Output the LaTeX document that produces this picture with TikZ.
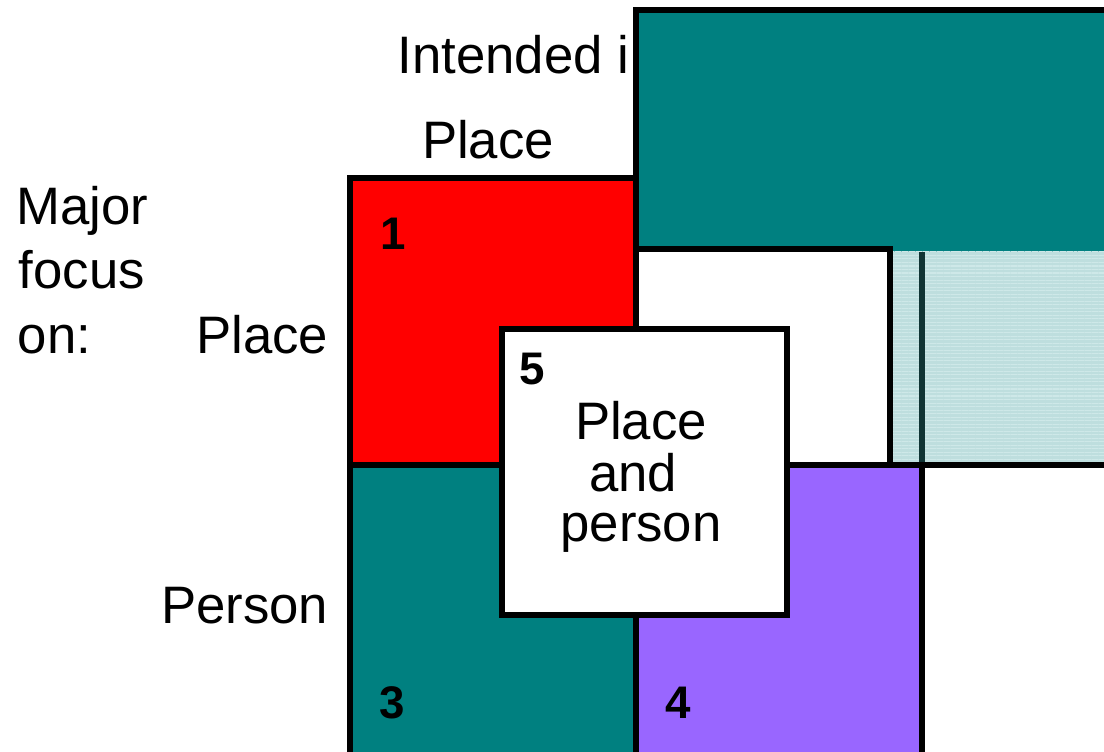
\documentclass[tikz,border=0pt]{standalone}
\usepackage{fontspec}
\setmainfont{Liberation Sans}
\usetikzlibrary{patterns.meta}
\definecolor{tealbox}{RGB}{0,128,128}
\definecolor{purplebox}{RGB}{153,102,255}
\definecolor{redbox}{RGB}{255,0,0}
\definecolor{hatchbg}{RGB}{190,222,222}
\definecolor{hatchline}{RGB}{206,232,232}
\definecolor{darkrule}{RGB}{16,52,52}

\begin{document}
\begin{tikzpicture}[x=1cm,y=1cm,bd/.style={line width=1.6pt,black},
  lab/.style={font=\fontsize{15}{17}\selectfont,inner sep=0pt,anchor=base},
  num/.style={font=\fontsize{13}{15}\selectfont\bfseries,inner sep=0pt,anchor=base}]
\useasboundingbox (0,0) rectangle (11.04,7.51);
% heading texts (partly covered by the teal block)
\node[lab,anchor=base west] (intended) at (3.97,6.77) {Intended i};
\node[lab] (colplace) at (4.88,5.92) {Place};
\node[lab,anchor=base west] (major) at (0.16,5.26) {Major};
\node[lab,anchor=base west] (focus) at (0.18,4.62) {focus};
\node[lab,anchor=base west] (on) at (0.17,3.97) {on:};
\node[lab,anchor=base east] (rowplace) at (3.29,3.97) {Place};
\node[lab,anchor=base east] (rowperson) at (3.29,1.27) {Person};
% upper right blocks
\fill[tealbox] (6.36,7.41) rectangle (11.3,4.99);
\draw[bd] (6.36,5.02) |- (11.3,7.41);
\fill[hatchbg] (8.90,4.99) rectangle (11.3,2.86);
\fill[pattern={Lines[angle=0,distance=1pt,line width=0.3pt]},pattern color=hatchline] (8.90,4.99) rectangle (11.3,2.86);
\draw[line width=1.6pt,darkrule] (9.22,4.99) -- (9.22,2.86);
\draw[bd] (8.90,2.86) -- (11.3,2.86);
\draw[bd,fill=white] (6.36,5.02) rectangle (8.90,2.86);
% the four quadrants
\draw[bd,fill=redbox] (3.50,5.73) rectangle (6.36,2.86);
\draw[bd,fill=tealbox] (3.50,2.86) rectangle (6.36,-0.06);
\draw[bd,fill=purplebox] (6.36,2.86) rectangle (9.22,-0.06);
\draw[bd,fill=white] (5.02,4.22) rectangle (7.87,1.36);
% numbers and centre text
\node[num] (n1) at (3.93,5.01) {1};
\node[num] (n5) at (5.32,3.66) {5};
\node[num] (n3) at (3.92,0.33) {3};
\node[num] (n4) at (6.78,0.33) {4};
\node[lab] (pp1) at (6.41,3.11) {Place};
\node[lab] (pp2) at (6.33,2.59) {and};
\node[lab] (pp3) at (6.41,2.09) {person};
\end{tikzpicture}
\end{document}
